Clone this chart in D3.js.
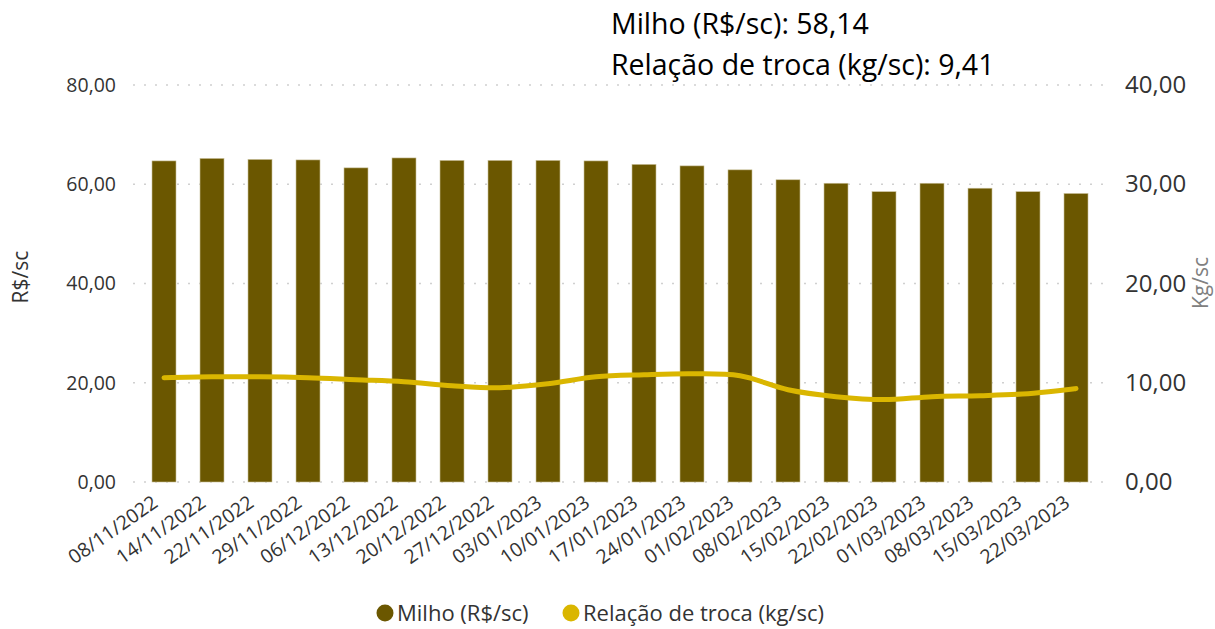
<!DOCTYPE html>
<html>
<head>
<meta charset="utf-8">
<script src="https://cdn.jsdelivr.net/npm/d3@7"></script>
<style>
  body { margin: 0; background: #fff; }
  text { font-family: "Open Sans", "Noto Sans", sans-serif; }
</style>
</head>
<body>
<script>
// weekly dates
var datas = ["08/11/2022","14/11/2022","22/11/2022","29/11/2022","06/12/2022","13/12/2022",
             "20/12/2022","27/12/2022","03/01/2023","10/01/2023","17/01/2023","24/01/2023",
             "01/02/2023","08/02/2023","15/02/2023","22/02/2023","01/03/2023","08/03/2023",
             "15/03/2023","22/03/2023"];
// milho R$/sc (bars, left axis)
var milho = [64.7, 65.2, 65.0, 64.9, 63.3, 65.3, 64.8, 64.8, 64.8, 64.7,
             64.0, 63.7, 62.9, 60.9, 60.2, 58.5, 60.2, 59.2, 58.5, 58.14];
// relacao de troca kg/sc (line, right axis)
var troca = [10.5, 10.6, 10.6, 10.5, 10.3, 10.1, 9.7, 9.5, 9.9, 10.6,
             10.8, 10.9, 10.7, 9.3, 8.6, 8.3, 8.6, 8.7, 8.9, 9.41];
var ticksEsq = [0, 20, 40, 60, 80];
var ticksDir = [0, 10, 20, 30, 40];

var width = 1215, height = 629;
var corBarra = "#6b5700", corLinha = "#dab600";

var svg = d3.select("body").append("svg")
    .attr("width", width)
    .attr("height", height);

var x = d3.scaleBand()
    .domain(datas)
    .range([140, 1100])
    .paddingInner(0.5)
    .paddingOuter(0.25);

var yEsq = d3.scaleLinear().domain([0, 80]).range([482, 85]);
var yDir = d3.scaleLinear().domain([0, 40]).range([482, 85]);

var fmt = function(v){ return d3.format(".2f")(v).replace(".", ","); };

//gridlines (dotted)
svg.append("g").selectAll("line")
    .data(ticksEsq)
    .enter().append("line")
    .attr("x1", 133).attr("x2", 1107)
    .attr("y1", function(d){ return yEsq(d); })
    .attr("y2", function(d){ return yEsq(d); })
    .attr("stroke", "#d0d0d0")
    .attr("stroke-width", 1.5)
    .attr("stroke-dasharray", "2,9");

//left axis
var eixoEsq = svg.append("g")
    .attr("transform", "translate(120,0)")
    .call(d3.axisLeft(yEsq).tickValues(ticksEsq).tickFormat(fmt).tickSize(0).tickPadding(4));
eixoEsq.select(".domain").remove();
eixoEsq.selectAll("text")
    .attr("font-size", "19.5px")
    .attr("fill", "#333")
    .style("font-family", "Open Sans");

//right axis
var eixoDir = svg.append("g")
    .attr("transform", "translate(1122,0)")
    .call(d3.axisRight(yDir).tickValues(ticksDir).tickFormat(fmt).tickSize(0).tickPadding(3));
eixoDir.select(".domain").remove();
eixoDir.selectAll("text")
    .attr("font-size", "24px")
    .attr("fill", "#333")
    .style("font-family", "Open Sans");

//bars
svg.append("g").selectAll("rect")
    .data(milho)
    .enter().append("rect")
    .attr("x", function(d, i){ return x(datas[i]); })
    .attr("width", x.bandwidth())
    .attr("y", function(d){ return yEsq(d); })
    .attr("height", function(d){ return yEsq(0) - yEsq(d); })
    .attr("fill", corBarra)
    .attr("stroke", "#c8bf98")
    .attr("stroke-width", 0.6);

//line
var linha = d3.line()
    .x(function(d, i){ return x(datas[i]) + x.bandwidth() / 2; })
    .y(function(d){ return yDir(d); })
    .curve(d3.curveCatmullRom.alpha(0.5));

svg.append("path")
    .datum(troca)
    .attr("d", linha)
    .attr("fill", "none")
    .attr("stroke", corLinha)
    .attr("stroke-width", 5)
    .attr("stroke-linecap", "round")
    .attr("stroke-linejoin", "round");

//x labels rotated
svg.append("g").selectAll("text")
    .data(datas)
    .enter().append("text")
    .attr("transform", function(d){
        return "translate(" + (x(d) + x.bandwidth() / 2 - 13) + ",494) rotate(-35)";
    })
    .attr("dy", "0.72em")
    .attr("text-anchor", "end")
    .attr("font-size", "19.5px")
    .attr("fill", "#333")
    .text(function(d){ return d; });

//axis titles
svg.append("text")
    .attr("transform", "translate(28,277) rotate(-90)")
    .attr("text-anchor", "middle")
    .attr("font-size", "21px")
    .attr("fill", "#333")
    .text("R$/sc");

svg.append("text")
    .attr("transform", "translate(1208,283) rotate(-90)")
    .attr("text-anchor", "middle")
    .attr("font-size", "21px")
    .attr("fill", "#808080")
    .text("Kg/sc");

//annotation up top
var nota = ["Milho (R$/sc): " + fmt(milho[milho.length - 1]),
            "Relação de troca (kg/sc): " + fmt(troca[troca.length - 1])];
svg.append("g").selectAll("text")
    .data(nota)
    .enter().append("text")
    .attr("x", 611)
    .attr("y", function(d, i){ return 34 + i * 41; })
    .attr("font-size", "28.5px")
    .attr("fill", "#000")
    .text(function(d){ return d; });

//legend
var legenda = [{nome: "Milho (R$/sc)", cor: corBarra, x: 385},
               {nome: "Relação de troca (kg/sc)", cor: corLinha, x: 571}];
var leg = svg.append("g").selectAll("g")
    .data(legenda)
    .enter().append("g")
    .attr("transform", function(d){ return "translate(" + d.x + ",613)"; });
leg.append("circle")
    .attr("r", 8.5)
    .attr("fill", function(d){ return d.cor; });
leg.append("text")
    .attr("x", 12)
    .attr("dy", "0.35em")
    .attr("font-size", "22px")
    .attr("fill", "#333")
    .text(function(d){ return d.nome; });
</script>
</body>
</html>
